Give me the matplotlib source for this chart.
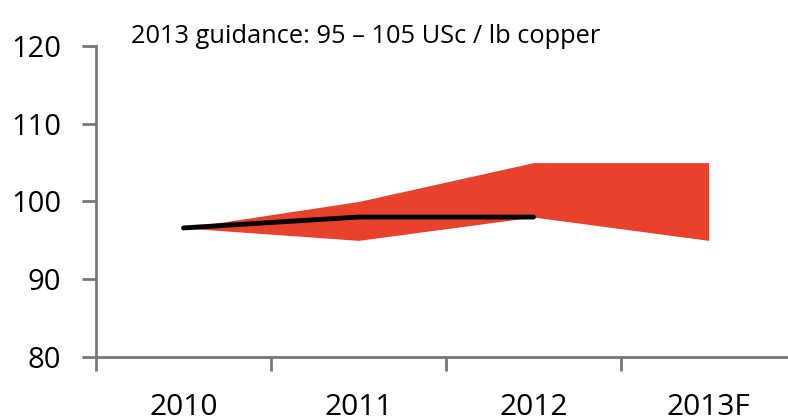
import numpy as np
import matplotlib
matplotlib.use('Agg')
import matplotlib.pyplot as plt

years = ['2010', '2011', '2012', '2013F']
band_high = [96.6, 100.0, 105.0, 105.0]
band_low = [96.6, 95.0, 98.0, 95.0]
actual = [96.6, 98.0, 98.0]
yticks = [80, 90, 100, 110, 120]
note = '2013 guidance: 95 \u2013 105 USc / lb copper'

plt.rcParams['font.family'] = ['Open Sans', 'DejaVu Sans']

fig = plt.figure(figsize=(7.88, 4.18), dpi=100)
# axes runs a little past the right edge, as in the source
ax = fig.add_axes([96 / 788, 1 - 357 / 418, 700 / 788, 311 / 418])

x = np.arange(len(years))
ax.fill_between(x, band_low, band_high, color='#E8412C', linewidth=0)
ax.plot(x[:len(actual)], actual, color='black', linewidth=3.5, solid_capstyle='round')

ax.set_xlim(-0.5, len(years) - 0.5)
ax.set_ylim(80, 120)
ax.set_yticks(yticks)
ax.set_xticks(x)
ax.set_xticklabels(years)
ax.set_xticks(np.arange(-0.5, len(years)), minor=True)
ax.tick_params(axis='x', which='major', length=0, pad=26, labelsize=21.5)
ax.tick_params(axis='x', which='minor', length=10, width=2, color='#777777', direction='out')
ax.tick_params(axis='y', length=10, width=2, color='#777777', labelsize=21, pad=15)

for s in ['top', 'right']:
    ax.spines[s].set_visible(False)
for s in ['left', 'bottom']:
    ax.spines[s].set_color('#777777')
    ax.spines[s].set_linewidth(2)

ax.text(0.05, 1.03, note, transform=ax.transAxes, fontsize=18.3, va='center', ha='left')

fig.savefig('out.png', dpi=100)
